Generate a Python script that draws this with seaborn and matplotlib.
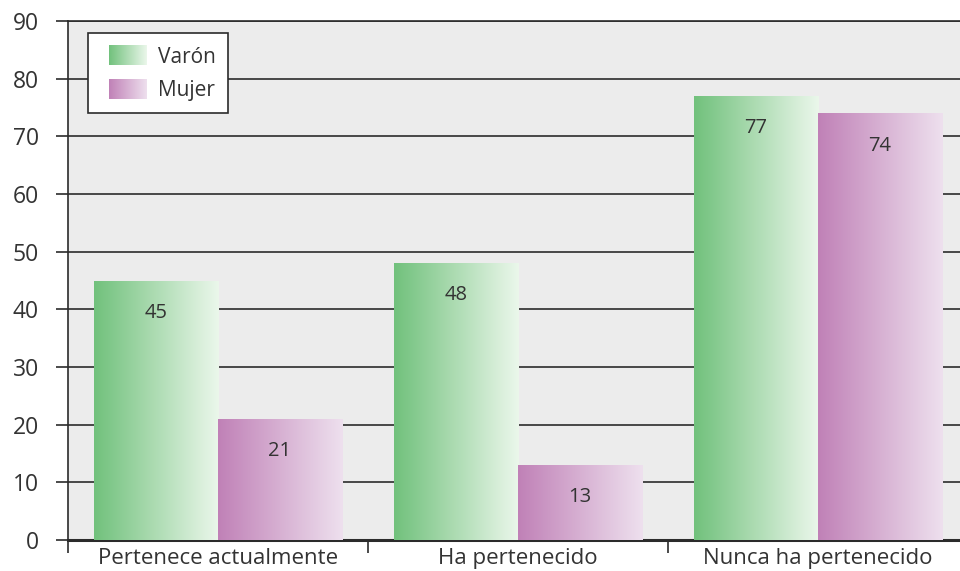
import numpy as np
import pandas as pd
import matplotlib
matplotlib.use("Agg")
import matplotlib.pyplot as plt
import seaborn as sns
from matplotlib.colors import LinearSegmentedColormap
from matplotlib.legend_handler import HandlerBase
from matplotlib.image import BboxImage
from matplotlib.transforms import Bbox, TransformedBbox
from matplotlib.patches import Rectangle

categories = ["Pertenece actualmente", "Ha pertenecido", "Nunca ha pertenecido"]
varon = [45, 48, 77]
mujer = [21, 13, 74]
series = ["Varón", "Mujer"]

df = pd.DataFrame({
    "categoria": categories * 2,
    "sexo": [series[0]] * 3 + [series[1]] * 3,
    "valor": varon + mujer,
})

sns.set_style("white")
plt.rcParams["font.family"] = ["Open Sans", "DejaVu Sans"]

grad_cmaps = {
    "Varón": LinearSegmentedColormap.from_list("g", ["#71c17c", "#ebf7eb"]),
    "Mujer": LinearSegmentedColormap.from_list("p", ["#c081b7", "#eee0ee"]),
}
text_color = "#333333"
line_color = "#2b2b2b"

fig = plt.figure(figsize=(9.6, 5.71), dpi=100)
ax = fig.add_axes([68 / 960, 1 - 540 / 571, 900 / 960, 519 / 571])
ax.set_facecolor("#ececec")

sns.barplot(data=df, x="categoria", y="valor", hue="sexo", order=categories,
            hue_order=series, width=0.827, palette=["#71c17c", "#c081b7"],
            ax=ax, legend=False, zorder=3, linewidth=0)

ax.set_xlim(-0.5, 2.5)
ax.set_ylim(0, 90)

# Gradient fill inside each bar, clipped to the bar rectangle
gradient = np.linspace(0, 1, 256).reshape(1, -1)
for container, name in zip(ax.containers, series):
    for bar, val in zip(container, container.datavalues):
        x0, w, h = bar.get_x(), bar.get_width(), bar.get_height()
        im = ax.imshow(gradient, cmap=grad_cmaps[name], aspect="auto",
                       extent=(x0, x0 + w, 0, h), zorder=3,
                       interpolation="bicubic")
        im.set_clip_path(bar)
        bar.set_facecolor("none")
        ax.text(x0 + w / 2, h - 5.6, f"{val:.0f}", ha="center", va="center",
                fontsize=14.5, color=text_color, zorder=5)

# Horizontal grid lines
ax.set_yticks(np.arange(0, 91, 10))
ax.yaxis.grid(True, color=line_color, linewidth=1.2, zorder=0)
ax.set_axisbelow(True)

ax.tick_params(axis="y", length=9, width=1.2, color=line_color,
               labelsize=16.5, labelcolor=text_color, pad=12, left=True)

# Category labels at centres, tick marks at category boundaries
ax.set_xticks(range(len(categories)))
ax.set_xticklabels(categories)
ax.tick_params(axis="x", which="major", length=0, labelsize=16,
               labelcolor=text_color, pad=6)
ax.set_xticks([-0.5, 0.5, 1.5, 2.5], minor=True)
ax.tick_params(axis="x", which="minor", length=9, width=1.2,
               color=line_color, bottom=True)

ax.set_xlabel("")
ax.set_ylabel("")

for side in ["left", "top", "bottom"]:
    ax.spines[side].set_visible(True)
    ax.spines[side].set_color(line_color)
ax.spines["left"].set_linewidth(1.2)
ax.spines["top"].set_linewidth(1.2)
ax.spines["bottom"].set_linewidth(2.2)
ax.spines["right"].set_visible(False)


class GradientHandler(HandlerBase):
    """Legend key drawn as a horizontal colour gradient, inset from the left."""

    def __init__(self, cmap, inset=0.18):
        super().__init__()
        self.cmap = cmap
        self.inset = inset

    def create_artists(self, legend, orig_handle, xdescent, ydescent,
                       width, height, fontsize, trans):
        off = width * self.inset
        bb = Bbox.from_bounds(-xdescent + off, -ydescent, width - off, height)
        img = BboxImage(TransformedBbox(bb, trans), cmap=self.cmap,
                        interpolation="bicubic", norm=plt.Normalize(0, 1))
        img.set_data(gradient)
        return [img]


handles = [Rectangle((0, 0), 1, 1) for _ in series]
leg = ax.legend(handles, series, loc="upper left",
                bbox_to_anchor=(0.022, 0.977), borderaxespad=0,
                handler_map={h: GradientHandler(grad_cmaps[s])
                             for h, s in zip(handles, series)},
                fontsize=15, handlelength=2.2, handleheight=1.1,
                handletextpad=0.55, labelspacing=0.53, borderpad=0.6,
                fancybox=False, framealpha=1, edgecolor=line_color,
                facecolor="white", labelcolor=text_color)
leg.get_frame().set_linewidth(1.2)
leg.set_zorder(6)

fig.savefig("out.png", dpi=100)
